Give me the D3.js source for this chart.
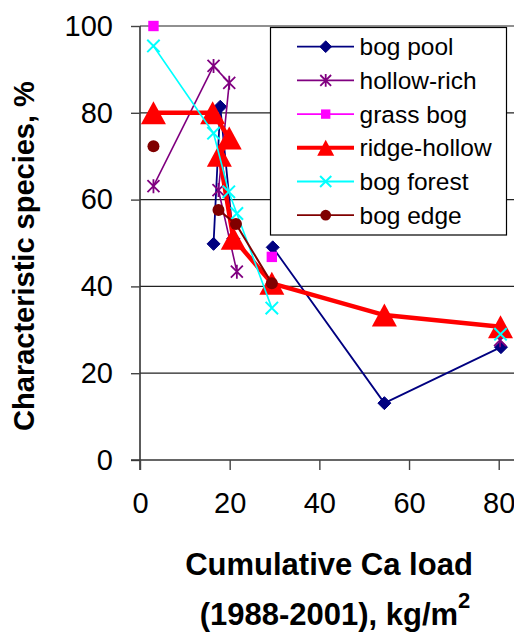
<!DOCTYPE html>
<html>
<head>
<meta charset="utf-8">
<script src="https://cdn.jsdelivr.net/npm/d3@7"></script>
<style>
  html, body { margin: 0; padding: 0; background: #fff; overflow: hidden; }
  svg { display: block; font-family: "Liberation Sans", Arial, sans-serif; }
</style>
</head>
<body>
<svg id="chart" width="514" height="635"></svg>
<script>
// Series names, in drawing order
const seriesNames = ["bog pool", "hollow-rich", "grass bog", "ridge-hollow", "bog forest", "bog edge"];

// Cumulative Ca load (x) and characteristic species % (y) per series; null breaks the line
const bogPoolX    = [16.4, 17.9, 20.8, null, 29.6, 54.5, 80.5];
const bogPoolY    = [49.8, 81.4, 51.0, null, 49.0, 13.1, 26.0];
const hollowRichX = [3.0, 16.4, 19.9, 17.5, 21.6, null, 80.3];
const hollowRichY = [63.1, 90.8, 86.9, 62.2, 43.4, null, 27.6];
const grassBogX   = [3.0, null, 29.4];
const grassBogY   = [100.0, null, 46.8];
const ridgeHollowX = [3.0, 16.2, 19.9, 17.7, 20.8, 29.4, 54.5, 80.4];
const ridgeHollowY = [80.0, 80.0, 74.2, 70.2, 51.1, 40.7, 33.4, 30.7];
const bogForestX  = [3.0, 16.4, 19.8, 21.6, 29.4, null, 80.4];
const bogForestY  = [95.4, 75.3, 61.8, 56.8, 35.0, null, 29.0];
const bogEdgeX    = [3.0, null, 17.5, 21.4, 29.4];
const bogEdgeY    = [72.3, null, 57.6, 54.4, 40.7];

// Axis ticks
const xTicks = [0, 20, 40, 60, 80, 100];
const yTicks = [0, 20, 40, 60, 80, 100];

const colors = ["#000080", "#800080", "#FF00FF", "#FF0000", "#00FFFF", "#800000"];
const lineWidths = [1.8, 1.6, 1.6, 4.5, 1.6, 2];
const markers = ["diamond", "star", "square", "triangle", "cross", "circle"];
const xs = [bogPoolX, hollowRichX, grassBogX, ridgeHollowX, bogForestX, bogEdgeX];
const ys = [bogPoolY, hollowRichY, grassBogY, ridgeHollowY, bogForestY, bogEdgeY];

const svg = d3.select("#chart");

// Plot area runs past the right edge of the page
const x = d3.scaleLinear().domain([0, 100]).range([140, 588.4]);
const y = d3.scaleLinear().domain([0, 100]).range([460, 26]);

// Horizontal gridlines
svg.append("g").selectAll("line")
  .data(yTicks.filter(t => t > 0))
  .join("line")
  .attr("x1", x(0)).attr("x2", x(100))
  .attr("y1", d => y(d)).attr("y2", d => y(d))
  .attr("stroke", "#222").attr("stroke-width", 1.2);

// Y axis
const yAxis = d3.axisLeft(y).tickValues(yTicks).tickSize(9).tickPadding(18).tickFormat(d3.format("d"));
const gy = svg.append("g").attr("transform", `translate(${x(0)},0)`).call(yAxis);
gy.select(".domain").attr("stroke", "#333").attr("stroke-width", 1.6).attr("d", `M0,${y(100)}V${y(0) + 10}`);
gy.selectAll(".tick line").attr("stroke", "#444").attr("stroke-width", 1.4);
gy.selectAll(".tick text").attr("font-size", 29).attr("fill", "#000")
  .attr("font-family", "Liberation Sans, Arial, sans-serif");

// X axis
const xAxis = d3.axisBottom(x).tickValues(xTicks).tickSize(10).tickPadding(22).tickFormat(d3.format("d"));
const gx = svg.append("g").attr("transform", `translate(0,${y(0)})`).call(xAxis);
gx.select(".domain").attr("stroke", "#333").attr("stroke-width", 1.6).attr("d", `M${x(0) - 9},0H${x(100)}`);
gx.selectAll(".tick line").attr("stroke", "#444").attr("stroke-width", 1.4);
gx.selectAll(".tick text").attr("font-size", 29).attr("fill", "#000")
  .attr("font-family", "Liberation Sans, Arial, sans-serif");

// Marker drawing
function drawMarker(g, type, cx, cy, color, big) {
  const s = big ? 1 : 0.9;
  if (type === "diamond") {
    const r = 6.5 * s;
    g.append("path").attr("d", `M${cx},${cy - r}L${cx + r},${cy}L${cx},${cy + r}L${cx - r},${cy}Z`)
      .attr("fill", color).attr("stroke", color).attr("stroke-width", 1);
  } else if (type === "square") {
    const r = 5.2 * s;
    g.append("rect").attr("x", cx - r).attr("y", cy - r).attr("width", 2 * r).attr("height", 2 * r)
      .attr("fill", color);
  } else if (type === "circle") {
    g.append("circle").attr("cx", cx).attr("cy", cy).attr("r", 6 * s).attr("fill", color);
  } else if (type === "triangle") {
    const w = big ? 12.5 : 8.5, h = big ? 11.5 : 8;
    g.append("path").attr("d", `M${cx},${cy - h}L${cx + w},${cy + h}L${cx - w},${cy + h}Z`)
      .attr("fill", color);
  } else if (type === "cross") {
    const r = 6.2 * s;
    g.append("path").attr("d", `M${cx - r},${cy - r}L${cx + r},${cy + r}M${cx - r},${cy + r}L${cx + r},${cy - r}`)
      .attr("stroke", color).attr("stroke-width", 2).attr("fill", "none");
  } else if (type === "star") {
    const r = 6 * s;
    g.append("path").attr("d", `M${cx - r},${cy - r}L${cx + r},${cy + r}M${cx - r},${cy + r}L${cx + r},${cy - r}M${cx},${cy - r - 1}L${cx},${cy + r + 1}`)
      .attr("stroke", color).attr("stroke-width", 1.8).attr("fill", "none");
  }
}

// Series lines and markers
const line = d3.line()
  .defined(d => d[0] != null && d[1] != null)
  .x(d => x(d[0])).y(d => y(d[1]));

seriesNames.forEach((name, i) => {
  const pts = xs[i].map((v, j) => [v, ys[i][j]]);
  const g = svg.append("g").attr("class", "series");
  g.append("path").datum(pts).attr("d", line)
    .attr("fill", "none").attr("stroke", colors[i]).attr("stroke-width", lineWidths[i])
    .attr("stroke-linejoin", "round");
  pts.filter(p => p[0] != null && p[1] != null)
    .forEach(p => drawMarker(g, markers[i], x(p[0]), y(p[1]), colors[i], true));
});

// Legend
const lg = svg.append("g");
lg.append("rect").attr("x", 270.5).attr("y", 27.5).attr("width", 236).attr("height", 207.5)
  .attr("fill", "#fff").attr("stroke", "#000").attr("stroke-width", 1.2);
seriesNames.forEach((name, i) => {
  const cy = 46.7 + i * 33.7;
  lg.append("line").attr("x1", 297).attr("x2", 354).attr("y1", cy).attr("y2", cy)
    .attr("stroke", colors[i]).attr("stroke-width", i === 3 ? 4 : 1.8);
  drawMarker(lg, markers[i], 325.7, cy, colors[i], false);
  lg.append("text").attr("x", 359.5).attr("y", cy + 8.5)
    .attr("font-size", 24.5).attr("fill", "#000").text(name);
});

// Axis titles
svg.append("text")
  .attr("transform", `translate(34,256) rotate(-90)`)
  .attr("text-anchor", "middle").attr("font-size", 29).attr("font-weight", "bold")
  .text("Characteristic species, %");

svg.append("text").attr("x", 329).attr("y", 575)
  .attr("text-anchor", "middle").attr("font-size", 31).attr("font-weight", "bold")
  .text("Cumulative Ca load");

const t2 = svg.append("text").attr("x", 335).attr("y", 625)
  .attr("text-anchor", "middle").attr("font-size", 31).attr("font-weight", "bold");
t2.append("tspan").text("(1988-2001), kg/m");
t2.append("tspan").attr("dy", -17).attr("font-size", 22).text("2");
</script>
</body>
</html>
